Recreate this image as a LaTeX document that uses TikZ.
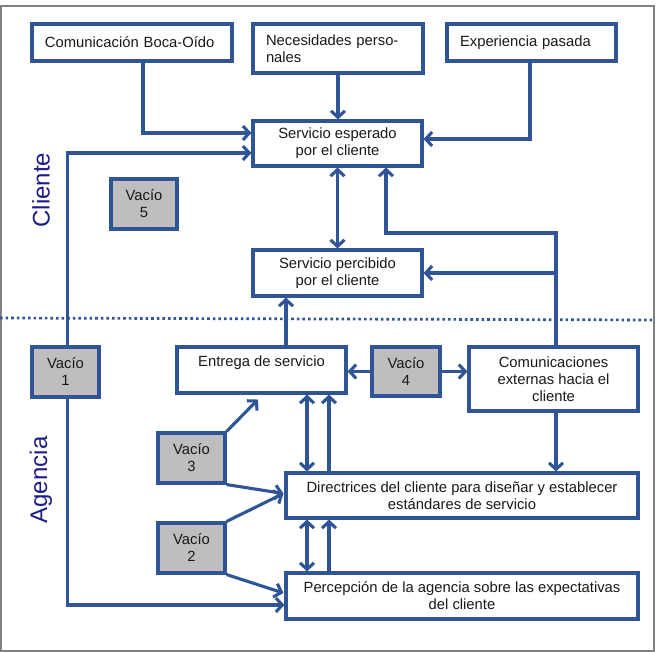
\documentclass[tikz,border=0pt]{standalone}
\usepackage{fontspec}
\setmainfont{Liberation Sans}
\usetikzlibrary{arrows.meta}
\definecolor{lineblue}{RGB}{47,85,151}
\definecolor{labelblue}{RGB}{28,28,135}
\definecolor{gapgray}{RGB}{191,189,189}
\definecolor{framegray}{RGB}{128,128,128}
\tikzset{
  box/.style={draw=lineblue, line width=3.1pt, fill=white, inner sep=0pt,
    font=\fontsize{14.8}{17}\selectfont, text=black!90, align=center},
  lbox/.style={box, align=left},
  gapbox/.style={box, fill=gapgray},
  arr/.style={draw=lineblue, line width=3.1pt, -{Straight Barb[length=6.5pt,width=14pt]}},
  dblarr/.style={draw=lineblue, line width=3.1pt, {Straight Barb[length=6.5pt,width=14pt]}-{Straight Barb[length=6.5pt,width=14pt]}},
  sidelabel/.style={rotate=90, text=labelblue, font=\fontsize{24}{28}\selectfont}
}
\begin{document}
\begin{tikzpicture}[x=1pt,y=-1pt]
\useasboundingbox (0,0) rectangle (659,652);
\draw[framegray, line width=1.3pt] (1,6) rectangle (654,651);
% dotted separator
\draw[lineblue, line width=2.7pt, dash pattern=on 2.6pt off 3pt] (0,318) -- (654,320);

% top boxes
\node[lbox, minimum width=200pt, minimum height=37pt, text width=174pt] (boca) at (132,42.5) {Comunicación Boca-Oído};
\node[lbox, minimum width=170pt, minimum height=49pt, text width=144pt] (nec) at (338,48.5) {Necesidades perso-\\nales};
\node[lbox, minimum width=169pt, minimum height=37pt, text width=143pt] (exp) at (531.5,42.5) {Experiencia pasada};
% client boxes
\node[box, minimum width=169pt, minimum height=45pt] (esp) at (337.5,143.5) {Servicio esperado\\por el cliente};
\node[box, minimum width=169pt, minimum height=46pt] (perc) at (337.5,273) {Servicio percibido\\por el cliente};
\node[gapbox, minimum width=66pt, minimum height=50pt] (v5) at (144,204) {Vacío\\5};
% agency boxes
\node[gapbox, minimum width=67pt, minimum height=50pt] (v1) at (65.5,372) {Vacío\\1};
\node[box, minimum width=169pt, minimum height=46pt] (ent) at (261.5,370) {Entrega de servicio\\\mbox{}};
\node[gapbox, minimum width=68pt, minimum height=49pt] (v4) at (406,371.5) {Vacío\\4};
\node[box, minimum width=169pt, minimum height=64pt] (com) at (553.5,379) {Comunicaciones\\externas hacia el\\cliente};
\node[gapbox, minimum width=67pt, minimum height=50pt] (v3) at (191.5,458) {Vacío\\3};
\node[box, minimum width=352pt, minimum height=45pt] (dir) at (462,495.5) {Directrices del cliente para diseñar y establecer\\estándares de servicio};
\node[gapbox, minimum width=67pt, minimum height=50pt] (v2) at (191.5,548) {Vacío\\2};
\node[box, minimum width=352pt, minimum height=46pt] (pcp) at (462,596) {Percepción de la agencia sobre las expectativas\\del cliente};

% side labels
\node[sidelabel] (cliente) at (41,190) {Cliente};
\node[sidelabel] (agencia) at (41,480) {Agencia};

% coordinates
\coordinate (cn) at ([xshift=2.5pt]com.north);
\coordinate (cs) at ([xshift=2.5pt]com.south);
\coordinate (k2) at (386,233);

% connectors
\draw[arr] ([xshift=11pt]boca.south) |- ([yshift=10.5pt]esp.west);
\draw[arr] (nec.south) -- (nec.south |- esp.north);
\draw[arr] ([xshift=-1.5pt]exp.south) |- ([yshift=4.5pt]esp.east);
\draw[arr] ([xshift=2pt]v1.north) |- ([yshift=-9.5pt]esp.west);
\draw[arr] ([xshift=2pt]v1.south) |- ([yshift=-9pt]pcp.west);
\draw[dblarr] (esp.south) -- (esp.south |- perc.north);
\draw[arr] (cn) |- (k2) -- (k2 |- esp.south);
\draw[arr] (cn |- perc.east) -- (perc.east);
\draw[arr] ([xshift=24.5pt]ent.north) -- ([xshift=-51.5pt]perc.south);
\draw[arr] (v4.west) -- (v4.west -| ent.east);
\draw[arr] (v4.east) -- (v4.east -| com.west);
\draw[arr] (cs) -- (cs |- dir.north);
\draw[arr] (v3.north east) -- ([xshift=-3.5pt,yshift=-5pt]ent.south);
\draw[arr] (v3.south east) -- ([xshift=-1pt,yshift=2pt]dir.west);
\draw[arr] (v2.north east) -- ([xshift=-1pt,yshift=2pt]dir.west);
\draw[arr] (v2.south east) -- ([xshift=-1pt,yshift=3pt]pcp.west);
\draw[dblarr] ([xshift=45.5pt]ent.south) -- ([xshift=-155pt]dir.north);
\draw[arr] ([xshift=-133pt]dir.north) -- ([xshift=67.5pt]ent.south);
\draw[dblarr] ([xshift=-155pt]dir.south) -- ([xshift=-155pt]pcp.north);
\draw[arr] ([xshift=-133pt]pcp.north) -- ([xshift=-133pt]dir.south);
\end{tikzpicture}
\end{document}
